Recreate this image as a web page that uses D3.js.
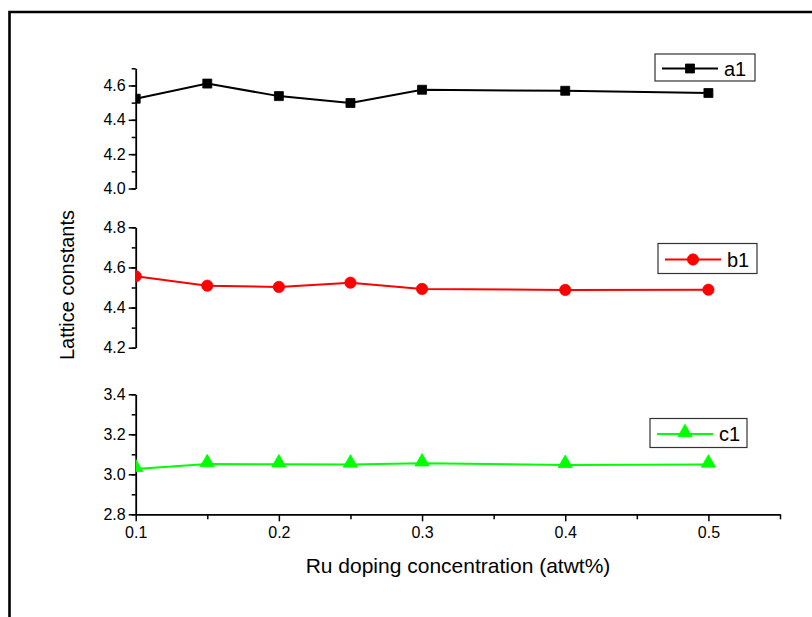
<!DOCTYPE html>
<html><head><meta charset="utf-8">
<script src="https://cdn.jsdelivr.net/npm/d3@7"></script>
<style>
html,body{margin:0;padding:0;background:#fff;}
svg{display:block;}
text{font-family:Arial,"Liberation Sans",sans-serif;fill:#000;}
</style></head>
<body>
<svg id="chart" width="812" height="617"></svg>
<script>
const xValues = [0.1, 0.15, 0.2, 0.25, 0.3, 0.4, 0.5];
const a1 = [4.523, 4.611, 4.538, 4.498, 4.575, 4.569, 4.556];
const b1 = [4.556, 4.509, 4.503, 4.524, 4.493, 4.488, 4.489];
const c1 = [3.027, 3.051, 3.050, 3.049, 3.055, 3.047, 3.049];
const seriesNames = ["a1", "b1", "c1"];
const xTickLabels = [0.1, 0.2, 0.3, 0.4, 0.5];
const aTicks = [4.0, 4.2, 4.4, 4.6];
const bTicks = [4.2, 4.4, 4.6, 4.8];
const cTicks = [2.8, 3.0, 3.2, 3.4];
const xTitle = "Ru doping concentration (atwt%)";
const yTitle = "Lattice constants";

const svg = d3.select("#chart");

// outer frame
svg.append("path").attr("d", "M9.5,617 L9.5,12 L812,12")
  .attr("fill", "none").attr("stroke", "#000").attr("stroke-width", 2.6);

const X0 = 135.7, X1 = 780;
const x = d3.scaleLinear().domain([0.1, 0.55]).range([X0, X1]);

const panels = [
  {name: seriesNames[0], data: a1, dom: [4.0, 4.7], rng: [188.5, 68.3], ticks: aTicks, color: "#000000", marker: "square",
   legend: {x: 655, y: 54, w: 100, h: 27}},
  {name: seriesNames[1], data: b1, dom: [4.2, 4.8], rng: [347.7, 227.3], ticks: bTicks, color: "#ff0000", marker: "circle",
   legend: {x: 658, y: 243.5, w: 99, h: 30}},
  {name: seriesNames[2], data: c1, dom: [2.8, 3.4], rng: [514.3, 394.3], ticks: cTicks, color: "#00ff00", marker: "triangle",
   legend: {x: 650, y: 418.5, w: 97, h: 29}}
];

function markerPath(type) {
  if (type === "square") return d3.symbol().type(d3.symbolSquare).size(81)();
  if (type === "circle") return d3.symbol().type(d3.symbolCircle).size(100)();
  return d3.symbol().type(d3.symbolTriangle).size(90)();
}

panels.forEach((p, i) => {
  const y = d3.scaleLinear().domain(p.dom).range(p.rng);
  const minorTicks = d3.range(Math.round(p.dom[0]*10), Math.round(p.dom[1]*10) + 1).map(v => v / 10);

  const gMinor = svg.append("g").attr("transform", `translate(${X0},0)`)
    .call(d3.axisLeft(y).tickValues(minorTicks).tickSize(4).tickFormat(""));
  gMinor.select(".domain").remove();
  gMinor.selectAll("line").attr("stroke", "#000").attr("stroke-width", 1.5);

  const g = svg.append("g").attr("transform", `translate(${X0},0)`)
    .call(d3.axisLeft(y).tickValues(p.ticks).tickSize(7).tickSizeOuter(0).tickPadding(3).tickFormat(d3.format(".1f")));
  g.select(".domain").attr("stroke", "#000").attr("stroke-width", 1.8);
  g.selectAll(".tick line").attr("stroke", "#000").attr("stroke-width", 1.5);
  g.selectAll("text").attr("font-size", 16).attr("font-family", "Arial, 'Liberation Sans', sans-serif").attr("fill", "#000");

  const cid = "clip" + i;
  svg.append("clipPath").attr("id", cid).append("rect")
    .attr("x", X0).attr("y", p.rng[1] - 20).attr("width", X1 - X0 + 20).attr("height", p.rng[0] - p.rng[1] + 40);

  const pts = xValues.map((xv, k) => [xv, p.data[k]]);
  const gd = svg.append("g").attr("clip-path", `url(#${cid})`);
  gd.append("path").datum(pts)
    .attr("d", d3.line().x(d => x(d[0])).y(d => y(d[1])))
    .attr("fill", "none").attr("stroke", p.color).attr("stroke-width", 2);
  gd.selectAll("path.mk").data(pts).enter().append("path").attr("class", "mk")
    .attr("d", markerPath(p.marker))
    .attr("transform", d => `translate(${x(d[0])},${y(d[1]) - (p.marker === "triangle" ? 1.5 : 0)})`)
    .attr("fill", p.color).attr("stroke", p.color).attr("stroke-width", 0.8);

  const L = p.legend;
  svg.append("rect").attr("x", L.x).attr("y", L.y).attr("width", L.w).attr("height", L.h)
    .attr("fill", "#fff").attr("stroke", "#333").attr("stroke-width", 1.2);
  const cy = L.y + L.h / 2 + 1;
  svg.append("line").attr("x1", L.x + 7).attr("x2", L.x + 63).attr("y1", cy).attr("y2", cy)
    .attr("stroke", p.color).attr("stroke-width", 2);
  svg.append("path").attr("d", markerPath(p.marker))
    .attr("transform", `translate(${L.x + 35},${cy - (p.marker === "triangle" ? 1.5 : 0)})`)
    .attr("fill", p.color).attr("stroke", p.color).attr("stroke-width", 0.8);
  svg.append("text").attr("x", L.x + 69).attr("y", cy + 7).attr("font-size", 20).text(p.name);
});

const xMinor = d3.range(0.15, 0.56, 0.1);
const gxm = svg.append("g").attr("transform", `translate(0,514.3)`)
  .call(d3.axisBottom(x).tickValues(xMinor).tickSize(5).tickFormat(""));
gxm.select(".domain").remove();
gxm.selectAll("line").attr("stroke", "#000").attr("stroke-width", 1.5);
const gx = svg.append("g").attr("transform", `translate(0,514.3)`)
  .call(d3.axisBottom(x).tickValues(xTickLabels).tickSize(7).tickSizeOuter(0).tickPadding(5).tickFormat(d3.format(".1f")));
gx.select(".domain").attr("stroke", "#000").attr("stroke-width", 1.8);
gx.selectAll(".tick line").attr("stroke", "#000").attr("stroke-width", 1.5);
gx.selectAll("text").attr("font-size", 16).attr("font-family", "Arial, 'Liberation Sans', sans-serif").attr("fill", "#000");

svg.append("text").attr("x", 458).attr("y", 573).attr("text-anchor", "middle")
  .attr("font-size", 21).text(xTitle);
svg.append("text").attr("transform", "translate(74,285) rotate(-90)").attr("text-anchor", "middle")
  .attr("font-size", 20).text(yTitle);
</script>
</body></html>
